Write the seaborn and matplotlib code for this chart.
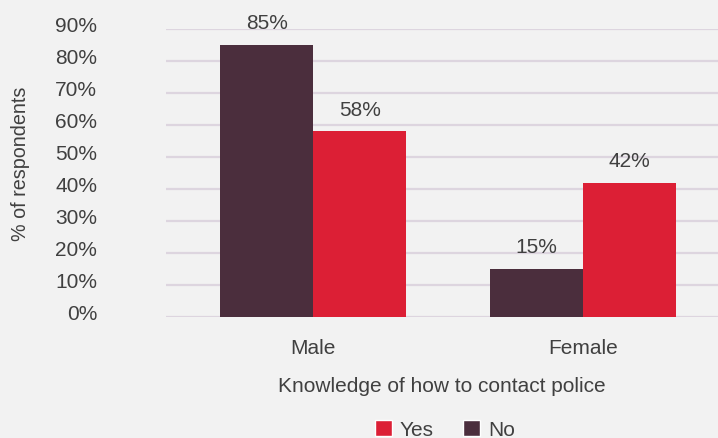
import matplotlib
matplotlib.use("Agg")
import matplotlib.pyplot as plt
import matplotlib.transforms as mtransforms
import seaborn as sns
import pandas as pd
from matplotlib.patches import Patch

categories = ["Male", "Female"]
no_values = [0.85, 0.15]
yes_values = [0.58, 0.42]
series_names = ["No", "Yes"]
y_ticks = [0, 0.1, 0.2, 0.3, 0.4, 0.5, 0.6, 0.7, 0.8, 0.9]

df = pd.DataFrame({
    "gender": categories * 2,
    "answer": ["No"] * len(categories) + ["Yes"] * len(categories),
    "value": no_values + yes_values,
})

colors = {"No": "#4b2e3d", "Yes": "#dc1f35"}
bg = "#f2f2f2"
text_color = "#404040"
fs = 15

sns.set_theme(style="white")
plt.rcParams["font.family"] = ["Liberation Sans", "DejaVu Sans"]

fig = plt.figure(figsize=(7.18, 4.39), dpi=100, facecolor=bg)
ax = fig.add_axes([166 / 718, (439 - 318) / 439, 1 - 166 / 718, (318 - 30) / 439])
ax.set_facecolor(bg)

sns.barplot(data=df, x="gender", y="value", hue="answer", hue_order=series_names,
            order=categories, palette=colors, width=0.69, saturation=1,
            ax=ax, legend=False, linewidth=0)

ax.set_ylim(0, 0.9)
ax.set_xlim(-0.547, 1.501)
ax.set_yticks(y_ticks)
ax.set_yticklabels([f"{int(round(t * 100))}%" for t in y_ticks])
for t in y_ticks:
    ax.axhline(t, color="#ddd5df", linewidth=1.6, zorder=0)
ax.set_axisbelow(True)
ax.grid(False)
for s in ax.spines.values():
    s.set_visible(False)
ax.tick_params(axis="y", length=0, pad=49.5, labelsize=fs, labelcolor=text_color)
ax.tick_params(axis="x", length=0, pad=15, labelsize=fs, labelcolor=text_color)

offset = mtransforms.ScaledTranslation(0, 5 / 100, fig.dpi_scale_trans)
for lbl in ax.get_yticklabels():
    lbl.set_transform(lbl.get_transform() + offset)

for cont in ax.containers:
    ax.bar_label(cont, labels=[f"{int(round(v * 100))}%" for v in cont.datavalues],
                 padding=9, fontsize=fs, color=text_color, clip_on=False)

ax.set_xlabel("Knowledge of how to contact police", fontsize=fs, color=text_color, labelpad=14)
ax.set_ylabel("% of respondents", fontsize=14.2, color=text_color)
ax.yaxis.set_label_coords((30 - 166) / 552, 0.535)

handles = [Patch(facecolor=colors["Yes"], label="Yes"), Patch(facecolor=colors["No"], label="No")]
fig.legend(handles=handles, loc="lower center", bbox_to_anchor=(445 / 718, -0.046), ncol=2,
           frameon=False, fontsize=fs, handlelength=0.8, handleheight=0.8,
           handletextpad=0.4, columnspacing=1.4, labelcolor=text_color)

fig.savefig("out.png", dpi=100, facecolor=bg)
